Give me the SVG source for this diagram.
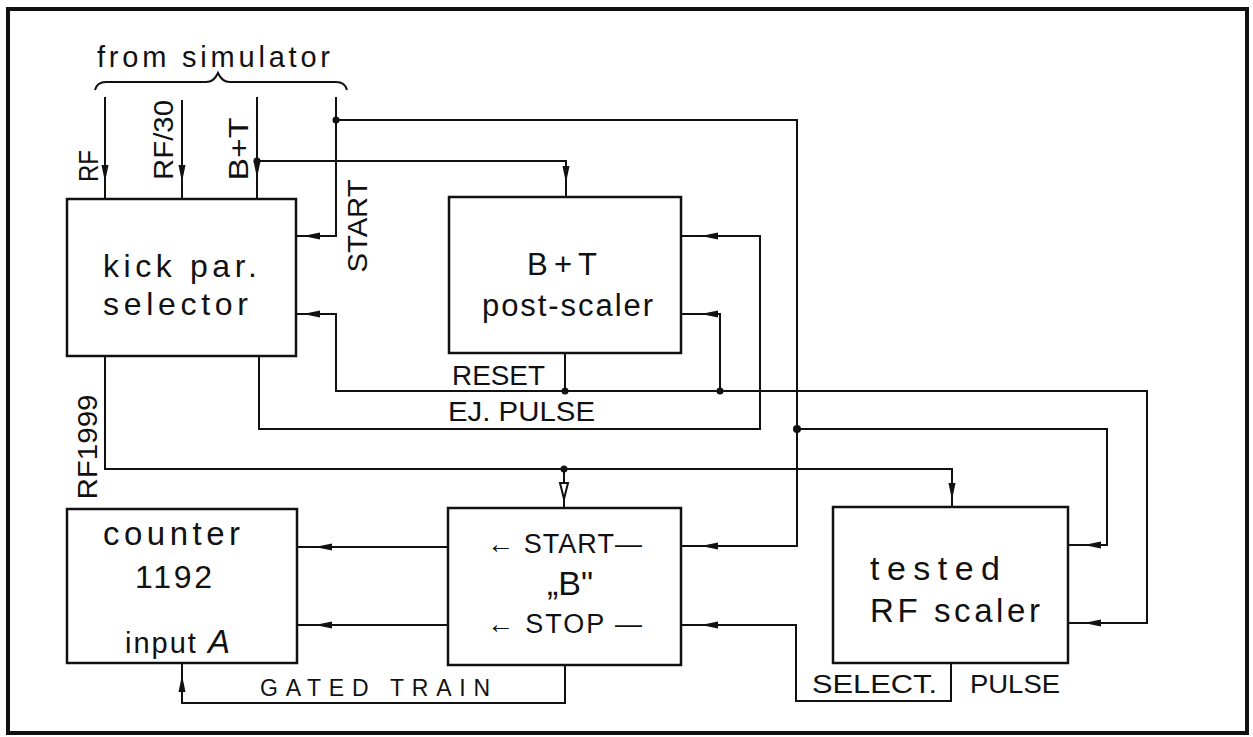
<svg xmlns="http://www.w3.org/2000/svg" xmlns:xlink="http://www.w3.org/1999/xlink" width="1253" height="737" viewBox="0 0 1253 737">
<style>
.box{fill:#fff;stroke:#111;stroke-width:2.5}
.ln{fill:none;stroke:#111;stroke-width:2}
.t{font-family:"Liberation Sans",Arial,sans-serif;fill:#111}
.dot{fill:#111}
</style>
<defs>
<path id="ah" d="M0,0 L-17,-3.5 L-17,3.5 Z" fill="#111"/>
</defs>
<rect width="1253" height="737" fill="#fff"/>
<rect x="8" y="9" width="1239" height="724" fill="none" stroke="#111" stroke-width="4"/>

<g id="source">
<text class="t" x="97" y="67" font-size="29" textLength="233" lengthAdjust="spacing">from simulator</text>
<path class="ln" d="M95,90 Q97,82 106,82 H206 Q214,82 218,73 Q222,82 230,82 H336 Q345,82 347,90"/>
</g>

<g id="connectors">
<path class="ln" d="M105,97 V199"/>
<path class="ln" d="M182,100 V199"/>
<path class="ln" d="M257,97 V199"/>
<path class="ln" d="M257,161 H566 V197"/>
<path class="ln" d="M336,97 V236 H296"/>
<path class="ln" d="M336,120 H797 V546 H681"/>
<path class="ln" d="M296,314 H336 V391 H1147 V623 H1068"/>
<path class="ln" d="M565,353 V391"/>
<path class="ln" d="M720,391 V314 H681"/>
<path class="ln" d="M259,356 V429 H760 V236 H681"/>
<path class="ln" d="M797,429 H1107 V545 H1068"/>
<path class="ln" d="M105,356 V469 H952 V507"/>
<path class="ln" d="M564,469 V508"/>
<path class="ln" d="M448,547 H297"/>
<path class="ln" d="M448,625 H297"/>
<path class="ln" d="M565,665 V703 H182 V663"/>
<path class="ln" d="M951,663 V701 H796 V625 H681"/>
<circle class="dot" cx="336" cy="120" r="3.5"/>
<circle class="dot" cx="257" cy="161" r="3.5"/>
<circle class="dot" cx="565" cy="391" r="3.5"/>
<circle class="dot" cx="720" cy="391" r="3.5"/>
<circle class="dot" cx="797" cy="429" r="4"/>
<circle class="dot" cx="564" cy="469" r="3.5"/>
<use xlink:href="#ah" transform="translate(105,182) rotate(90)"/>
<use xlink:href="#ah" transform="translate(182,182) rotate(90)"/>
<use xlink:href="#ah" transform="translate(257,178) rotate(90)"/>
<use xlink:href="#ah" transform="translate(566,183) rotate(90)"/>
<use xlink:href="#ah" transform="translate(303,236) rotate(180)"/>
<use xlink:href="#ah" transform="translate(303,314) rotate(180)"/>
<use xlink:href="#ah" transform="translate(701,236) rotate(180)"/>
<use xlink:href="#ah" transform="translate(701,314) rotate(180)"/>
<use xlink:href="#ah" transform="translate(701,546) rotate(180)"/>
<use xlink:href="#ah" transform="translate(701,625) rotate(180)"/>
<use xlink:href="#ah" transform="translate(1084,545) rotate(180)"/>
<use xlink:href="#ah" transform="translate(1084,623) rotate(180)"/>
<use xlink:href="#ah" transform="translate(315,547) rotate(180)"/>
<use xlink:href="#ah" transform="translate(315,625) rotate(180)"/>
<use xlink:href="#ah" transform="translate(182,675) rotate(-90)"/>
<use xlink:href="#ah" transform="translate(952,500) rotate(90)"/>
<path d="M564,499 L560,483 L568,483 Z" fill="#fff" stroke="#111" stroke-width="2"/>
<text class="t" font-size="28" transform="translate(98,166) rotate(-90)" text-anchor="middle" textLength="32" lengthAdjust="spacingAndGlyphs">RF</text>
<text class="t" font-size="28" transform="translate(173,140) rotate(-90)" text-anchor="middle" textLength="80" lengthAdjust="spacingAndGlyphs">RF/30</text>
<text class="t" font-size="28" transform="translate(248,149) rotate(-90)" text-anchor="middle" textLength="63" lengthAdjust="spacingAndGlyphs">B+T</text>
<text class="t" font-size="28" transform="translate(367,226) rotate(-90)" text-anchor="middle" textLength="93" lengthAdjust="spacingAndGlyphs">START</text>
<text class="t" font-size="28" transform="translate(97,447) rotate(-90)" text-anchor="middle" textLength="105" lengthAdjust="spacingAndGlyphs">RF1999</text>
<text class="t" x="452" y="385" font-size="28" textLength="93" lengthAdjust="spacingAndGlyphs">RESET</text>
<text class="t" x="448" y="421" font-size="28" textLength="147" lengthAdjust="spacingAndGlyphs">EJ. PULSE</text>
<text class="t" x="260" y="696" font-size="23" textLength="230" lengthAdjust="spacing">GATED TRAIN</text>
<text class="t" x="812" y="693" font-size="25" textLength="125" lengthAdjust="spacingAndGlyphs">SELECT.</text>
<text class="t" x="970" y="693" font-size="25" textLength="90" lengthAdjust="spacingAndGlyphs">PULSE</text>
</g>

<g id="kick-par-selector">
<rect class="box" x="67" y="199" width="229" height="157"/>
<text class="t" x="103" y="277" font-size="32" textLength="154" lengthAdjust="spacing">kick par.</text>
<text class="t" x="103" y="315" font-size="32" textLength="145" lengthAdjust="spacing">selector</text>
</g>

<g id="bt-post-scaler">
<rect class="box" x="449" y="197" width="232" height="156"/>
<text class="t" x="527" y="275" font-size="31" textLength="70" lengthAdjust="spacing">B + T</text>
<text class="t" x="482" y="316" font-size="31" textLength="171" lengthAdjust="spacing">post-scaler</text>
</g>

<g id="counter-1192">
<rect class="box" x="67" y="509" width="230" height="154"/>
<text class="t" x="103" y="545" font-size="33" textLength="137" lengthAdjust="spacing">counter</text>
<text class="t" x="135" y="588" font-size="32" textLength="77" lengthAdjust="spacing">1192</text>
<text class="t" x="125" y="653" font-size="29" textLength="105" lengthAdjust="spacing">input <tspan font-style="italic" font-size="33">A</tspan></text>
</g>

<g id="b-gate">
<rect class="box" x="448" y="508" width="233" height="157"/>
<text class="t" x="487" y="553" font-size="27" textLength="155" lengthAdjust="spacing">← START—</text>
<text class="t" x="570" y="595" font-size="34" text-anchor="middle">„B"</text>
<text class="t" x="487" y="633" font-size="27" textLength="155" lengthAdjust="spacing">← STOP —</text>
</g>

<g id="tested-rf-scaler">
<rect class="box" x="833" y="507" width="235" height="156"/>
<text class="t" x="870" y="580" font-size="34" textLength="130" lengthAdjust="spacing">tested</text>
<text class="t" x="870" y="622" font-size="33" textLength="170" lengthAdjust="spacing">RF scaler</text>
</g>
</svg>
